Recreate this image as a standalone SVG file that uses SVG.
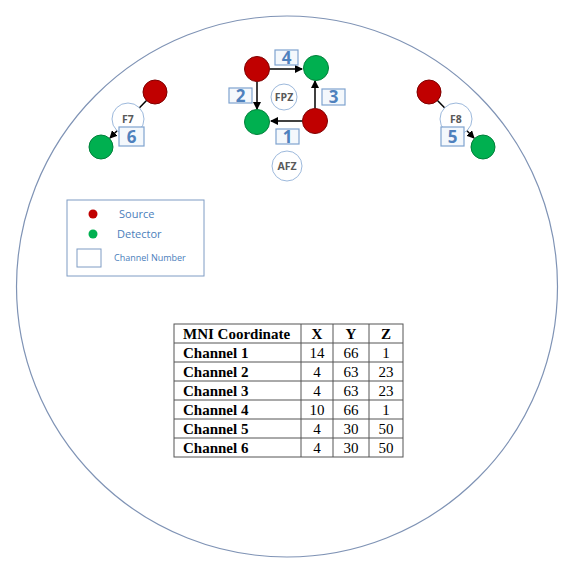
<svg xmlns="http://www.w3.org/2000/svg" width="573" height="562" viewBox="0 0 573 562">
<defs>
<marker id="ah" markerWidth="8" markerHeight="8" refX="7" refY="4" orient="auto" markerUnits="userSpaceOnUse">
<path d="M0,0 L8,4 L0,8 Z" fill="#000"/>
</marker>
<style>
.src{fill:#c00000;stroke:#7f0000;stroke-width:1}
.det{fill:#00b050;stroke:#00803a;stroke-width:1}
.pos{fill:#fff;stroke:#9db9dc;stroke-width:1}
.pl{font-family:"Open Sans","Liberation Sans",sans-serif;font-weight:bold;font-size:10.5px;fill:#595959;text-anchor:middle}
.box{fill:#f4f8fc;stroke:#7fa3cf;stroke-width:1.2}
.num{font-family:"Open Sans","Liberation Sans",sans-serif;font-weight:bold;font-size:17px;fill:#4f81bd;text-anchor:middle}
.conn{stroke:#000;stroke-width:1.5;fill:none}
.leg{font-family:"Open Sans","Liberation Sans",sans-serif;fill:#4a7ebb}
.tl{stroke:#555;stroke-width:1;fill:none}
.th{font-family:"Liberation Serif","Times New Roman",serif;font-weight:bold;font-size:15px;fill:#000}
.td{font-family:"Liberation Serif","Times New Roman",serif;font-size:15px;fill:#000;text-anchor:middle}
</style>
</defs>
<rect width="573" height="562" fill="#fff"/>
<circle id="head" cx="287" cy="286.5" r="270.5" fill="none" stroke="#7f93b5" stroke-width="1.2"/>

<g id="connectors">
<line class="conn" x1="270" y1="69" x2="302" y2="69" marker-end="url(#ah)"/>
<line class="conn" x1="257" y1="82" x2="257" y2="109" marker-end="url(#ah)"/>
<line class="conn" x1="315" y1="108" x2="315" y2="81" marker-end="url(#ah)"/>
<line class="conn" x1="302" y1="121" x2="271" y2="121" marker-end="url(#ah)"/>
<line class="conn" x1="147" y1="100" x2="110" y2="138" stroke-width="1.2" marker-end="url(#ah)"/>
<line class="conn" x1="437" y1="100" x2="474" y2="138" stroke-width="1.2" marker-end="url(#ah)"/>
</g>

<g id="FPZ"><circle class="pos" cx="284" cy="97" r="13"/><text class="pl" x="284" y="101">FPZ</text></g>
<g id="AFZ"><circle class="pos" cx="287" cy="166" r="15"/><text class="pl" x="287" y="170">AFZ</text></g>
<g id="F7"><circle class="pos" cx="128" cy="119" r="16"/><text class="pl" x="128" y="123">F7</text></g>
<g id="F8"><circle class="pos" cx="456" cy="119" r="16"/><text class="pl" x="456" y="123">F8</text></g>

<g id="S1"><circle class="src" cx="257" cy="69" r="12.5"/></g>
<g id="D1"><circle class="det" cx="316" cy="68" r="12.5"/></g>
<g id="D2"><circle class="det" cx="257" cy="122" r="12.5"/></g>
<g id="S2"><circle class="src" cx="315" cy="121" r="12.5"/></g>
<g id="S3"><circle class="src" cx="155" cy="92" r="12"/></g>
<g id="D3"><circle class="det" cx="101" cy="147" r="12"/></g>
<g id="S4"><circle class="src" cx="429" cy="92" r="12"/></g>
<g id="D4"><circle class="det" cx="483" cy="147" r="12"/></g>

<g id="ch4"><rect class="box" x="275" y="50" width="23" height="15"/><text class="num" x="286.5" y="64">4</text></g>
<g id="ch2"><rect class="box" x="229" y="88" width="23" height="15"/><text class="num" x="240.5" y="102">2</text></g>
<g id="ch3"><rect class="box" x="322" y="89" width="23" height="16"/><text class="num" x="333.5" y="103">3</text></g>
<g id="ch1"><rect class="box" x="276" y="129" width="23" height="15"/><text class="num" x="287.5" y="143">1</text></g>
<g id="ch6"><rect class="box" x="119" y="127" width="25" height="19"/><text class="num" x="131.5" y="143">6</text></g>
<g id="ch5"><rect class="box" x="441" y="127" width="23" height="19"/><text class="num" x="452.5" y="143">5</text></g>

<g id="legend">
<rect x="67" y="200" width="137" height="76" fill="#fff" stroke="#7f9cc4" stroke-width="1"/>
<circle cx="93" cy="214" r="4.5" fill="#c00000"/>
<text class="leg" x="119" y="218" font-size="11">Source</text>
<circle cx="93" cy="234" r="4.5" fill="#00b050"/>
<text class="leg" x="117" y="238" font-size="11">Detector</text>
<rect x="77" y="249" width="24" height="18" fill="#fff" stroke="#7f9cc4" stroke-width="1"/>
<text class="leg" x="114" y="261" font-size="9">Channel Number</text>
</g>

<g id="table">
<rect class="tl" x="174" y="324" width="229" height="133"/>
<line class="tl" x1="174" y1="343" x2="403" y2="343"/>
<line class="tl" x1="174" y1="362" x2="403" y2="362"/>
<line class="tl" x1="174" y1="381" x2="403" y2="381"/>
<line class="tl" x1="174" y1="400" x2="403" y2="400"/>
<line class="tl" x1="174" y1="419" x2="403" y2="419"/>
<line class="tl" x1="174" y1="438" x2="403" y2="438"/>
<line class="tl" x1="301" y1="324" x2="301" y2="457"/>
<line class="tl" x1="333" y1="324" x2="333" y2="457"/>
<line class="tl" x1="369" y1="324" x2="369" y2="457"/>
<text class="th" x="183" y="339">MNI Coordinate</text>
<text class="th" x="317" y="339" text-anchor="middle">X</text>
<text class="th" x="351" y="339" text-anchor="middle">Y</text>
<text class="th" x="386" y="339" text-anchor="middle">Z</text>
<text class="th" x="183" y="358">Channel 1</text>
<text class="td" x="317" y="358">14</text><text class="td" x="351" y="358">66</text><text class="td" x="386" y="358">1</text>
<text class="th" x="183" y="377">Channel 2</text>
<text class="td" x="317" y="377">4</text><text class="td" x="351" y="377">63</text><text class="td" x="386" y="377">23</text>
<text class="th" x="183" y="396">Channel 3</text>
<text class="td" x="317" y="396">4</text><text class="td" x="351" y="396">63</text><text class="td" x="386" y="396">23</text>
<text class="th" x="183" y="415">Channel 4</text>
<text class="td" x="317" y="415">10</text><text class="td" x="351" y="415">66</text><text class="td" x="386" y="415">1</text>
<text class="th" x="183" y="434">Channel 5</text>
<text class="td" x="317" y="434">4</text><text class="td" x="351" y="434">30</text><text class="td" x="386" y="434">50</text>
<text class="th" x="183" y="453">Channel 6</text>
<text class="td" x="317" y="453">4</text><text class="td" x="351" y="453">30</text><text class="td" x="386" y="453">50</text>
</g>
</svg>
